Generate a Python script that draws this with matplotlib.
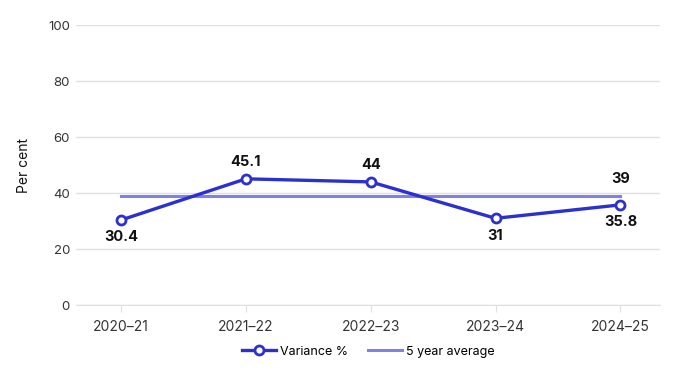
import matplotlib.pyplot as plt

plt.rcParams['font.family'] = ['Inter', 'DejaVu Sans']

years = ['2020–21', '2021–22', '2022–23', '2023–24', '2024–25']
variance = [30.4, 45.1, 44, 31, 35.8]
average = [39, 39, 39, 39, 39]
# label position for each variance point: above or below
label_pos = ['below', 'above', 'above', 'below', 'below']

line_col = '#2b30cf'
avg_col = '#7f82e2'

fig = plt.figure(figsize=(6.8, 3.8), dpi=100)
ax = fig.add_axes([0.112, 0.197, 0.859, 0.737])

x = list(range(len(years)))
ax.plot(x, average, color=avg_col, lw=2.2, label='5 year average', zorder=2)
ax.plot(x, variance, color=line_col, lw=2.4, marker='o', markersize=6.5,
        markerfacecolor='white', markeredgecolor=line_col, markeredgewidth=2,
        label='Variance %', zorder=3)

for i, v in enumerate(variance):
    off = 12 if label_pos[i] == 'above' else -12.5
    ax.annotate(f'{v:g}', (i, v), xytext=(0, off), textcoords='offset points',
                ha='center', va='center', fontsize=10.5, fontweight='bold', color='#111111')
ax.annotate(f'{average[-1]:g}', (x[-1], average[-1]), xytext=(0, 12), textcoords='offset points',
            ha='center', va='center', fontsize=10.5, fontweight='bold', color='#111111')

ax.set_ylim(0, 100)
ax.set_yticks([0, 20, 40, 60, 80, 100])
ax.set_xlim(-0.36, 4.32)
ax.set_xticks(x)
ax.set_xticklabels(years)
ax.set_ylabel('Per cent', fontsize=10, color='#111111', labelpad=12)

ax.grid(axis='y', color='#e0e0e0', lw=1)
ax.set_axisbelow(True)
for s in ['top', 'right', 'left']:
    ax.spines[s].set_visible(False)
ax.spines['bottom'].set_color('#e0e0e0')
ax.tick_params(axis='y', length=0, pad=4.5, labelsize=9.5, labelcolor='#333333')
ax.tick_params(axis='x', length=5, color='#e0e0e0', pad=6, labelsize=10, labelcolor='#333333')

handles, labels = ax.get_legend_handles_labels()
ax.legend(handles[::-1], labels[::-1], loc='upper center', bbox_to_anchor=(0.5, -0.105),
          ncol=2, frameon=False, fontsize=9, handlelength=2.7, handletextpad=0.35,
          columnspacing=1.6)

fig.savefig('out.png', dpi=100)
